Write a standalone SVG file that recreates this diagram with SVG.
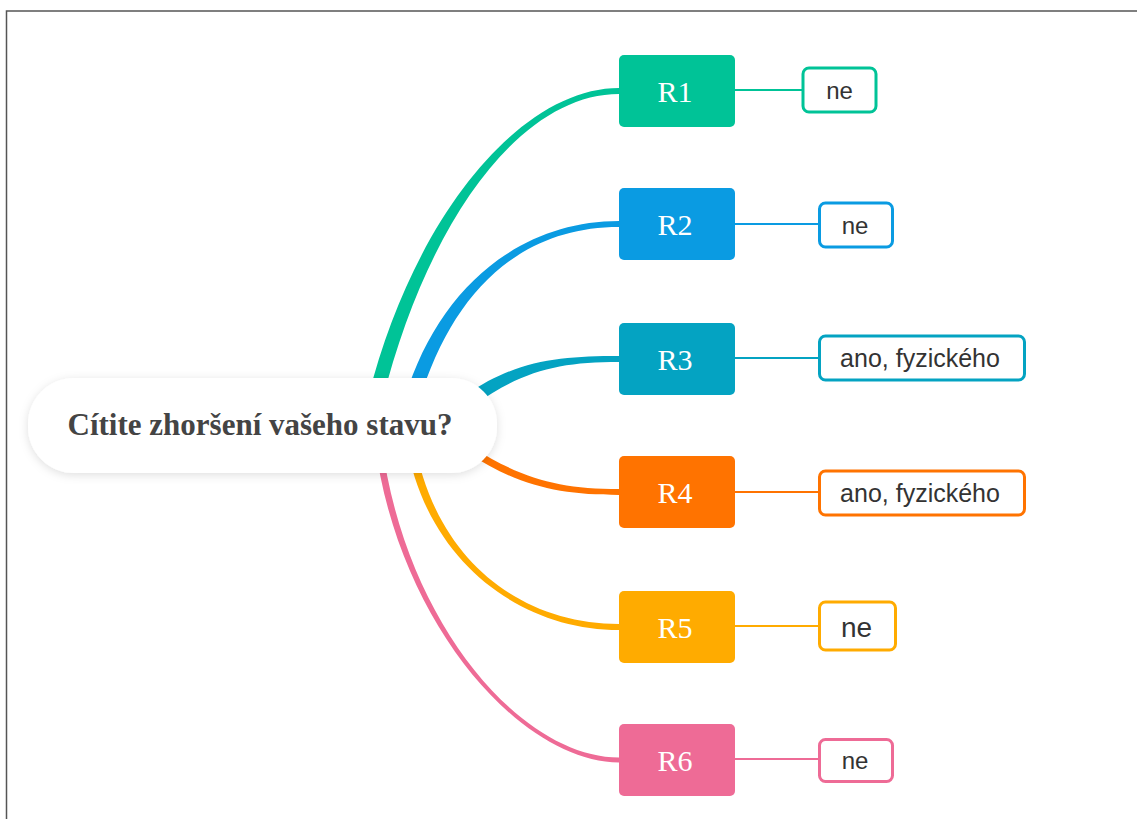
<svg xmlns="http://www.w3.org/2000/svg" width="1137" height="819" viewBox="0 0 1137 819">
<defs>
<style>
.rn{stroke:none}
.rt{font-family:"Liberation Serif","Times New Roman",serif;font-size:30px;fill:#fff;text-anchor:middle}
.lb{fill:#fff;stroke-width:3}
.lt{font-family:"Liberation Sans",Arial,sans-serif;font-size:24px;fill:#333;text-anchor:middle}
.lw{font-size:25px}
.ln{fill:none;stroke-width:2}
.br{stroke:none}
</style>
<filter id="sh" x="-10%" y="-30%" width="120%" height="160%">
<feDropShadow dx="0" dy="2" stdDeviation="5" flood-color="#000" flood-opacity="0.13"/>
</filter>
</defs>
<rect x="0" y="0" width="1137" height="819" fill="#fff"/>
<path d="M6.5,819 V11 H1137" fill="none" stroke="#555" stroke-width="1.5"/>
<g id="connectors">
<path class="br" fill="#00c397" d="M368,398 C413,218 520,88 619,88 L619,94 C520,94 427,222 382,402 Z"/>
<path class="br" fill="#0a9be2" d="M405,398 C438,288 520,221 619,221 L619,227 C520,227 452,292 419,402 Z"/>
<path class="br" fill="#04a3c2" d="M466,395 C516,360 560,356 619,356 L619,362 C560,362 524,370 474,405 Z"/>
<path class="br" fill="#ff7300" d="M472,447 C522,479 560,489 619,489 L619,495 C560,495 518,486 468,453 Z"/>
<path class="br" fill="#ffab00" d="M414,439 C434,559 520,624 619,624 L619,630 C520,630 426,561 406,441 Z"/>
<path class="br" fill="#ee6b96" d="M381.5,440 C403.5,620 520,757.5 619,757.5 L619,762.5 C520,762.5 396.5,620 374.5,440 Z"/>
<line class="ln" stroke="#00c397" x1="735" y1="90" x2="802" y2="90"/>
<line class="ln" stroke="#0a9be2" x1="735" y1="224" x2="818" y2="224"/>
<line class="ln" stroke="#04a3c2" x1="735" y1="358" x2="818" y2="358"/>
<line class="ln" stroke="#ff7300" x1="735" y1="492" x2="818" y2="492"/>
<line class="ln" stroke="#ffab00" x1="735" y1="626" x2="818" y2="626"/>
<line class="ln" stroke="#ee6b96" x1="735" y1="759" x2="818" y2="759"/>
</g>
<g id="center">
<rect x="28" y="378" width="469" height="95" rx="46" fill="#fff" filter="url(#sh)"/>
<text x="260" y="435" font-family="'Liberation Serif','Times New Roman',serif" font-weight="bold" font-size="31" fill="#444" text-anchor="middle">Cítite zhoršení vašeho stavu?</text>
</g>
<g id="r1"><rect class="rn" x="619" y="55" width="116" height="72" rx="5" fill="#00c397"/><text class="rt" x="675" y="101.5">R1</text></g>
<g id="r2"><rect class="rn" x="619" y="188" width="116" height="72" rx="5" fill="#0a9be2"/><text class="rt" x="675" y="234.5">R2</text></g>
<g id="r3"><rect class="rn" x="619" y="323" width="116" height="72" rx="5" fill="#04a3c2"/><text class="rt" x="675" y="369.5">R3</text></g>
<g id="r4"><rect class="rn" x="619" y="456" width="116" height="72" rx="5" fill="#ff7300"/><text class="rt" x="675" y="502.5">R4</text></g>
<g id="r5"><rect class="rn" x="619" y="591" width="116" height="72" rx="5" fill="#ffab00"/><text class="rt" x="675" y="637.5">R5</text></g>
<g id="r6"><rect class="rn" x="619" y="724" width="116" height="72" rx="5" fill="#ee6b96"/><text class="rt" x="675" y="770.5">R6</text></g>
<g id="l1"><rect class="lb" stroke="#00c397" x="803" y="68" width="73" height="44" rx="6"/><text class="lt" x="839.5" y="99">ne</text></g>
<g id="l2"><rect class="lb" stroke="#0a9be2" x="819.5" y="203" width="73" height="44" rx="6"/><text class="lt" x="855" y="233.5">ne</text></g>
<g id="l3"><rect class="lb" stroke="#04a3c2" x="819.5" y="336" width="205" height="44" rx="6"/><text class="lt lw" x="920" y="367">ano, fyzického</text></g>
<g id="l4"><rect class="lb" stroke="#ff7300" x="819.5" y="471" width="205" height="44" rx="6"/><text class="lt lw" x="920" y="501.5">ano, fyzického</text></g>
<g id="l5"><rect class="lb" stroke="#ffab00" x="819.5" y="602" width="76" height="48" rx="6"/><text class="lt" x="856.5" y="636.5" style="font-size:28px">ne</text></g>
<g id="l6"><rect class="lb" stroke="#ee6b96" x="819.5" y="739.5" width="73" height="42" rx="6"/><text class="lt" x="855" y="769">ne</text></g>
</svg>
